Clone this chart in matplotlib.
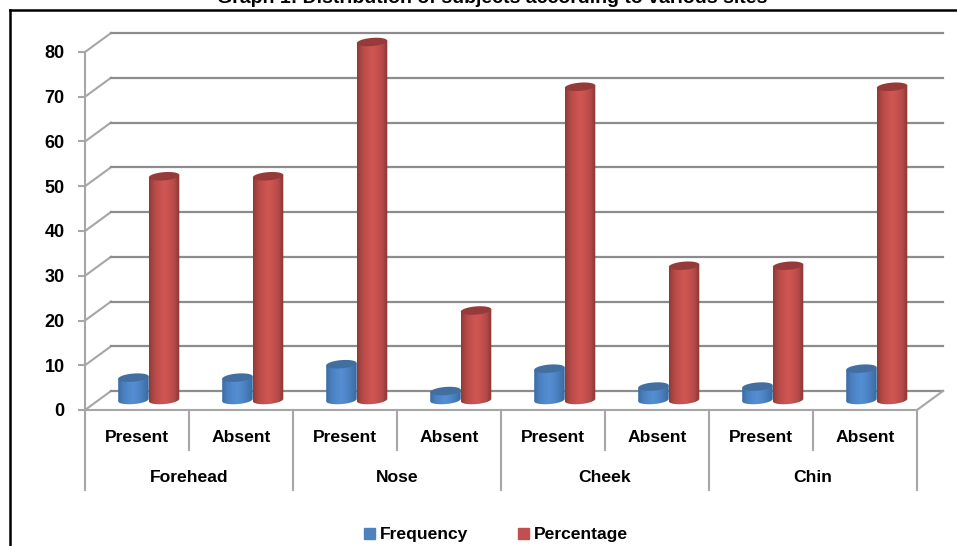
import numpy as np
import matplotlib
matplotlib.use("Agg")
import matplotlib.pyplot as plt
from matplotlib.lines import Line2D
from matplotlib.patches import Patch, PathPatch, Polygon
from matplotlib.path import Path

sites = ["Forehead", "Nose", "Cheek", "Chin"]
status = ["Present", "Absent"] * 4
frequency = [5, 5, 8, 2, 7, 3, 3, 7]
percentage = [50, 50, 80, 20, 70, 30, 30, 70]
yticks = [0, 10, 20, 30, 40, 50, 60, 70, 80]

W, H = 957, 546
PX_X = 104.0    # pixels per category
PX_Y = 4.475    # pixels per y unit
X0, Y0 = 85, 410

plt.rcParams["font.family"] = ["Liberation Sans", "DejaVu Sans"]
plt.rcParams["font.weight"] = "bold"

fig = plt.figure(figsize=(W / 100, H / 100), dpi=100)
ax = fig.add_axes([0, 0, 1, 1])
ax.set_facecolor("none")

depth_x = 26 / PX_X
depth_y = 19 / PX_Y
floor = 10 / PX_Y
bar_w = 30.5 / PX_X
ry = 4.1 / PX_Y
tilt = 1.2 / PX_Y    # the rims lean up to the right
n = len(status)
grey = "#8c8c8c"
light = "#a6a6a6"


def rim(xc, y, t):
    # points on a slightly tilted ellipse
    u = np.cos(t)
    return xc + bar_w / 2 * u, y + ry * np.sin(t) + tilt * u


def cylinder(xc, val, stops, top_color, z):
    left, right = xc - bar_w / 2, xc + bar_w / 2
    t = np.linspace(np.pi, 2 * np.pi, 30)
    bx, by = rim(xc, floor, t)
    verts = list(zip(bx, by)) + [(right, floor + val + tilt), (left, floor + val - tilt), (bx[0], by[0])]
    body = PathPatch(Path(verts), fc="none", ec="none", transform=ax.transData)
    ax.add_patch(body)
    pos = np.linspace(0, 1, 64)
    rgb = np.array([[int(c[i:i + 2], 16) / 255 for i in (1, 3, 5)] for c in stops])
    at = np.linspace(0, 1, len(stops))
    grad = np.stack([np.interp(pos, at, rgb[:, k]) for k in range(3)], axis=-1)[None, :, :]
    im = ax.imshow(grad, extent=(left, right, floor - ry - tilt, floor + val + tilt), aspect="auto",
                   zorder=z, interpolation="bilinear")
    im.set_clip_path(body)
    t2 = np.linspace(0, 2 * np.pi, 60)
    tx, ty = rim(xc, floor + val, t2)
    ax.add_patch(Polygon(np.column_stack([tx, ty]), fc=top_color, ec="none", zorder=z + 0.1))


# walls and floor
for v in yticks:
    ax.plot([0, depth_x], [v, v + depth_y], color=light, lw=1.5, zorder=1)
    ax.plot([depth_x, n + depth_x], [v + depth_y, v + depth_y], color=grey, lw=1.6, zorder=1)
ax.plot([n, n + depth_x], [0, depth_y], color=light, lw=1.5, zorder=1)

blue_stops = ["#3a6aa2", "#4a7fbf", "#4f88cc", "#558ed2", "#4f86c8", "#457ab6", "#3a6a9f"]
red_stops = ["#8f3b39", "#b34a47", "#c6514e", "#cf5653", "#c6514e", "#b34a47", "#863533"]
for i in range(n):
    cylinder(i + 0.466, frequency[i], blue_stops, "#426f9f", 3 + i)
    cylinder(i + 0.76, percentage[i], red_stops, "#963b39", 3.5 + i)

# category table under the floor
low1 = -40 / PX_Y
low2 = -80 / PX_Y
for i in range(n + 1):
    ax.plot([i, i], [0, low2 if i % 2 == 0 else low1], color=light, lw=1.5, zorder=1)
    if i < n:
        ax.text(i + 0.5, -27 / PX_Y, status[i], ha="center", va="center", fontsize=12.6)
for g, site in enumerate(sites):
    ax.text(2 * g + 1, -67 / PX_Y, site, ha="center", va="center", fontsize=12.6)

ax.set_xlim(-X0 / PX_X, (W - X0) / PX_X)
ax.set_ylim(-(H - Y0) / PX_Y, Y0 / PX_Y)
ax.set_xticks([])
ax.set_yticks(yticks)
ax.tick_params(axis="y", length=5, width=1.5, color=light, labelsize=13, pad=9.5)
for s in ["top", "right"]:
    ax.spines[s].set_visible(False)
ax.spines["left"].set_position(("data", 0))
ax.spines["left"].set_bounds(0, 80)
ax.spines["bottom"].set_position(("data", 0))
ax.spines["bottom"].set_bounds(0, n)
for s in ["left", "bottom"]:
    ax.spines[s].set_color(light)
    ax.spines[s].set_linewidth(1.5)

ax.legend(handles=[Patch(color="#4f81bd", label="Frequency"), Patch(color="#c0504d", label="Percentage")],
          ncol=2, frameon=False, loc="center", bbox_to_anchor=(496 / W, 1 - 535 / H),
          fontsize=12.6, handlelength=0.63, handleheight=0.63, handletextpad=0.3, columnspacing=2.8)

# outer frame, cropped at the right and bottom of the picture
fig.add_artist(Line2D([10 / W, 10 / W], [0, 1 - 10 / H], color="black", lw=1.8))
fig.add_artist(Line2D([10 / W, 1], [1 - 10 / H, 1 - 10 / H], color="black", lw=1.8))
fig.text(492 / W, 1 - 3 / H, "Graph 1: Distribution of subjects according to various sites",
         ha="center", va="baseline", fontsize=14)

fig.savefig("out.png", dpi=100)
